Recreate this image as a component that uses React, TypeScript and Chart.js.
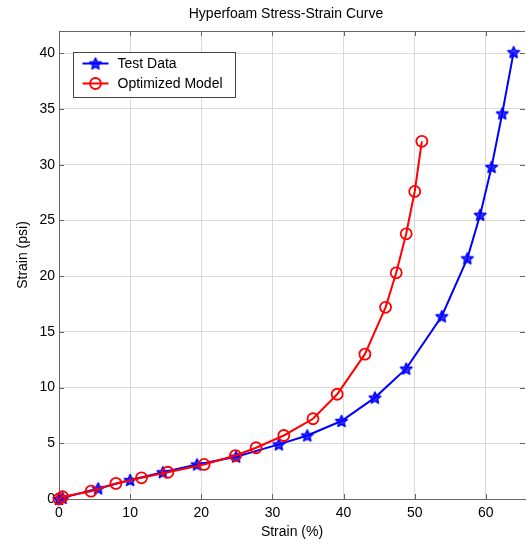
import React, { useEffect, useRef } from "react";
import { Chart, registerables } from "chart.js";

Chart.register(...registerables);

// ---- Data ----
const testStrain = [0, 0.5, 5.5, 10.0, 14.6, 19.4, 24.9, 30.9, 34.9, 39.7, 44.4, 48.8, 53.8, 57.4, 59.2, 60.8, 62.3, 63.9];
const testStress = [0, 0.1, 0.95, 1.7, 2.4, 3.1, 3.8, 4.9, 5.7, 7.0, 9.1, 11.7, 16.4, 21.6, 25.5, 29.8, 34.6, 40.1];

const modelStrain = [0, 0.5, 4.5, 8.0, 11.6, 15.3, 20.4, 24.8, 27.7, 31.6, 35.7, 39.1, 43.0, 45.9, 47.4, 48.8, 50.0, 51.0];
const modelStress = [0, 0.2, 0.7, 1.4, 1.9, 2.4, 3.1, 3.9, 4.6, 5.7, 7.2, 9.4, 13.0, 17.2, 20.3, 23.8, 27.6, 32.1];

const xTicks = [0, 10, 20, 30, 40, 50, 60];
const yTicks = [0, 5, 10, 15, 20, 25, 30, 35, 40];

const seriesNames = ["Test Data", "Optimized Model"];
const chartTitle = "Hyperfoam Stress-Strain Curve";
const xTitle = "Strain (%)";
const yTitle = "Strain (psi)";

const BLUE = "#0000ff";
const RED = "#ff0000";
const FONT = "'Liberation Sans', Arial, Helvetica, sans-serif";

function makeStar(color: string, r: number): HTMLCanvasElement {
  const size = Math.ceil(r * 2 + 4);
  const c = document.createElement("canvas");
  c.width = size;
  c.height = size;
  const ctx = c.getContext("2d")!;
  ctx.translate(size / 2, size / 2 + 0.5);
  ctx.beginPath();
  for (let i = 0; i < 10; i++) {
    const rad = i % 2 === 0 ? r : r * 0.45;
    const a = -Math.PI / 2 + (i * Math.PI) / 5;
    const px = Math.cos(a) * rad;
    const py = Math.sin(a) * rad;
    if (i === 0) ctx.moveTo(px, py);
    else ctx.lineTo(px, py);
  }
  ctx.closePath();
  ctx.fillStyle = "rgba(0,0,255,0.75)";
  ctx.fill();
  ctx.strokeStyle = color;
  ctx.lineWidth = 1.6;
  ctx.lineJoin = "round";
  ctx.stroke();
  return c;
}

export default function App() {
  const ref = useRef<HTMLCanvasElement>(null);

  useEffect(() => {
    document.body.style.margin = "0";
    const canvas = ref.current!;
    const star = makeStar(BLUE, 6);

    const testPoints = testStrain.map((x, i) => ({ x, y: testStress[i] }));
    const modelPoints = modelStrain.map((x, i) => ({ x, y: modelStress[i] }));

    const decorPlugin = {
      id: "decor",
      beforeDatasetsDraw(chart: any) {
        const { ctx, chartArea } = chart;
        const { left, right, top, bottom } = chartArea;
        const xs = chart.scales.x;
        const ys = chart.scales.y;
        ctx.save();
        ctx.strokeStyle = "#666";
        ctx.lineWidth = 1;
        ctx.beginPath();
        ctx.moveTo(left, top + 0.5);
        ctx.lineTo(right, top + 0.5);
        ctx.stroke();
        ctx.beginPath();
        xTicks.forEach((v) => {
          const px = Math.round(xs.getPixelForValue(v)) + 0.5;
          ctx.moveTo(px, bottom);
          ctx.lineTo(px, bottom - 5);
          ctx.moveTo(px, top);
          ctx.lineTo(px, top + 5);
        });
        yTicks.forEach((v) => {
          const py = Math.round(ys.getPixelForValue(v)) + 0.5;
          ctx.moveTo(left, py);
          ctx.lineTo(left + 5, py);
          ctx.moveTo(right, py);
          ctx.lineTo(right - 5, py);
        });
        ctx.stroke();
        ctx.restore();
      },
      afterDraw(chart: any) {
        const { ctx, chartArea } = chart;
        const { left, right, top, bottom } = chartArea;
        ctx.save();
        ctx.fillStyle = "#000";
        ctx.font = `14px ${FONT}`;
        ctx.textAlign = "center";
        ctx.textBaseline = "middle";
        ctx.fillText(chartTitle, (left + right) / 2 - 6, 14);
        ctx.save();
        ctx.translate(23, (top + bottom) / 2 - 10);
        ctx.rotate(-Math.PI / 2);
        ctx.fillText(yTitle, 0, 0);
        ctx.restore();

        // legend
        const bx = left + 14.5;
        const by = top + 21.5;
        const bw = 162;
        const bh = 45;
        ctx.fillStyle = "#fff";
        ctx.fillRect(bx, by, bw, bh);
        ctx.strokeStyle = "#444";
        ctx.lineWidth = 1;
        ctx.strokeRect(bx, by, bw, bh);
        const rows = [by + 11, by + 31];
        const colors = [BLUE, RED];
        rows.forEach((ry, i) => {
          ctx.strokeStyle = colors[i];
          ctx.lineWidth = 2;
          ctx.beginPath();
          ctx.moveTo(bx + 9, ry);
          ctx.lineTo(bx + 35, ry);
          ctx.stroke();
          const mx = bx + 22;
          if (i === 0) {
            ctx.drawImage(star, mx - star.width / 2, ry - star.height / 2);
          } else {
            ctx.beginPath();
            ctx.arc(mx, ry, 5.5, 0, Math.PI * 2);
            ctx.lineWidth = 1.8;
            ctx.stroke();
          }
          ctx.fillStyle = "#000";
          ctx.font = `14px ${FONT}`;
          ctx.textAlign = "left";
          ctx.textBaseline = "middle";
          ctx.fillText(seriesNames[i], bx + 44, ry + 1);
        });
        ctx.restore();
      },
    };

    const chart = new Chart(canvas, {
      type: "line",
      data: {
        datasets: [
          {
            label: seriesNames[0],
            data: testPoints,
            borderColor: BLUE,
            borderWidth: 2,
            pointStyle: star as any,
            pointRadius: 6,
            pointBorderColor: BLUE,
            pointBackgroundColor: BLUE,
            tension: 0,
            clip: false as any,
            order: 1,
          },
          {
            label: seriesNames[1],
            data: modelPoints,
            borderColor: RED,
            borderWidth: 2,
            pointStyle: "circle",
            pointRadius: 5.5,
            pointBorderWidth: 1.8,
            pointBorderColor: RED,
            pointBackgroundColor: "rgba(0,0,0,0)",
            tension: 0,
            clip: false as any,
            order: 0,
          },
        ],
      },
      options: {
        responsive: false,
        animation: false,
        devicePixelRatio: 1,
        layout: { padding: { top: 31, right: 1, left: 0, bottom: 0 } },
        plugins: {
          legend: { display: false },
          tooltip: { enabled: false },
          title: { display: false },
        },
        scales: {
          x: {
            type: "linear",
            min: 0,
            max: 65.5,
            afterBuildTicks: (s: any) => {
              s.ticks = xTicks.map((v) => ({ value: v }));
            },
            afterFit: (s: any) => {
              s.height = 47;
            },
            grid: { color: "#dadada", lineWidth: 1, drawTicks: false },
            border: { display: true, color: "#666", width: 1 },
            ticks: { color: "#000", font: { family: FONT, size: 14 }, padding: 6, maxRotation: 0 },
            title: { display: true, text: xTitle, color: "#000", font: { family: FONT, size: 14 }, padding: { top: 0, bottom: 5 } },
          },
          y: {
            type: "linear",
            min: 0,
            max: 42,
            afterBuildTicks: (s: any) => {
              s.ticks = yTicks.map((v) => ({ value: v }));
            },
            afterFit: (s: any) => {
              s.width = 59;
            },
            grid: { color: "#dadada", lineWidth: 1, drawTicks: false },
            border: { display: true, color: "#666", width: 1 },
            ticks: { color: "#000", font: { family: FONT, size: 14 }, padding: 4 },
          },
        },
      },
      plugins: [decorPlugin],
    } as any);

    return () => chart.destroy();
  }, []);

  return (
    <div style={{ width: 531, height: 546, overflow: "hidden" }}>
      <canvas ref={ref} width={533} height={546} style={{ display: "block" }} />
    </div>
  );
}
